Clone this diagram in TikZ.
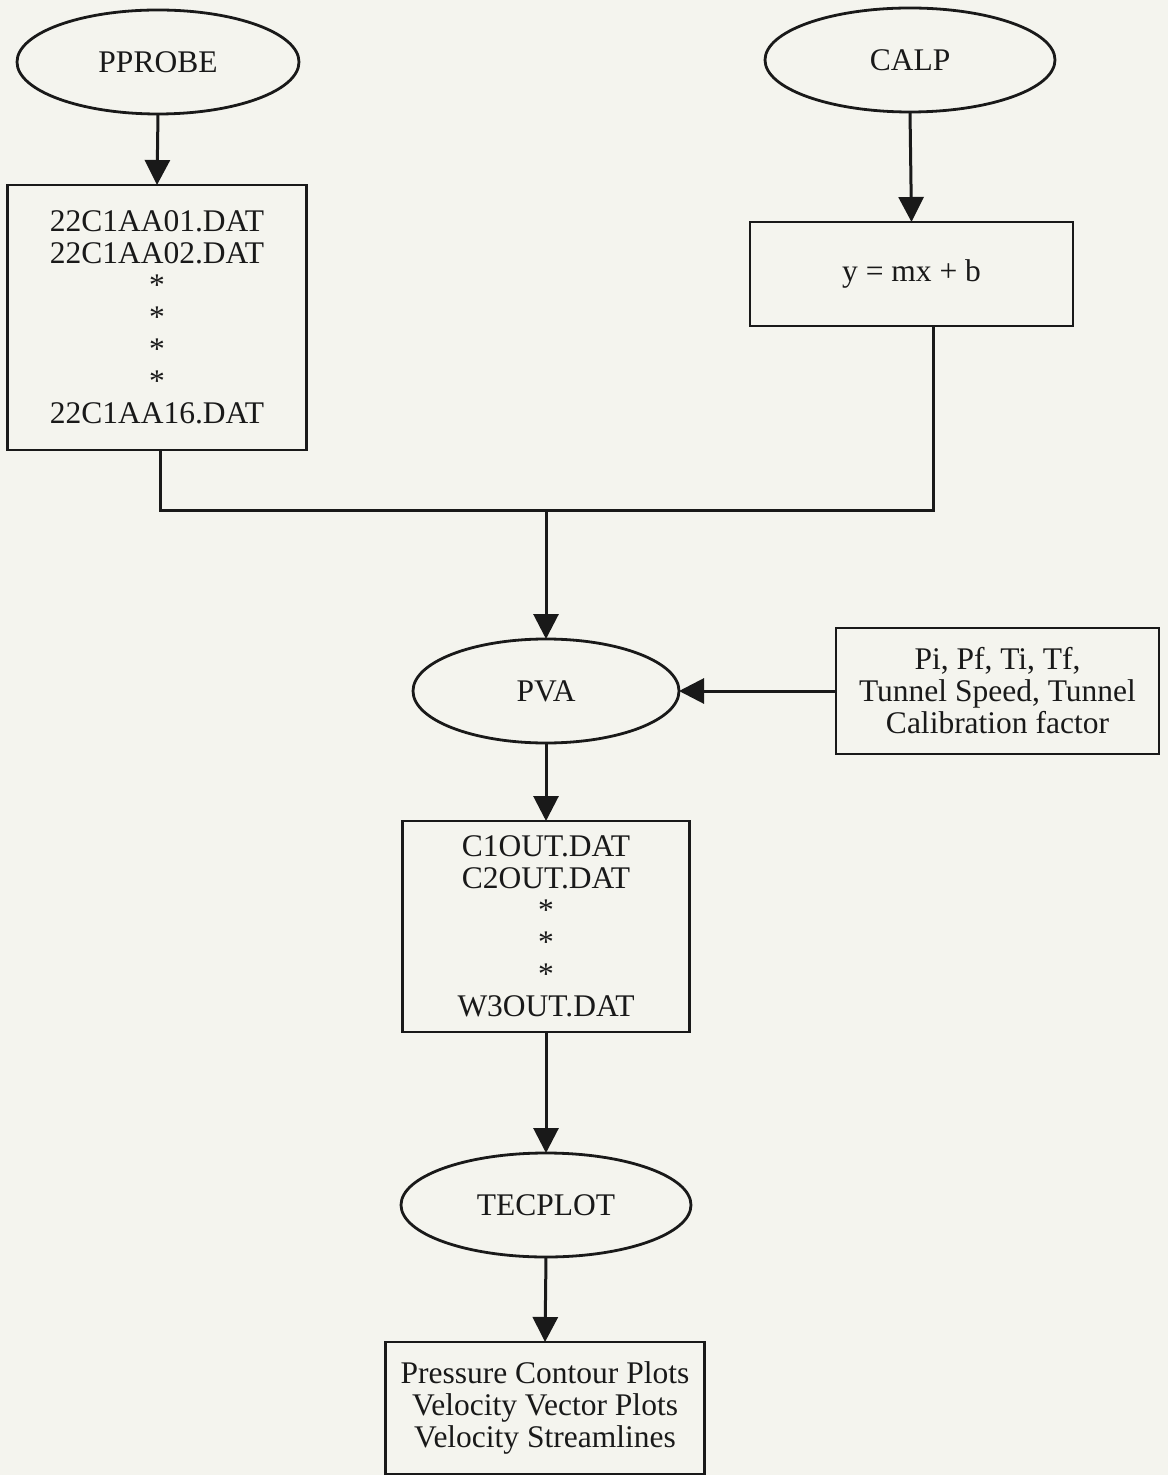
\documentclass[tikz,border=0pt]{standalone}
\usepackage{fontspec}
\setmainfont{Liberation Serif}
\usetikzlibrary{shapes.geometric,arrows.meta}
\definecolor{paper}{RGB}{244,244,238}
\definecolor{ink}{RGB}{25,25,25}
\begin{document}
\begin{tikzpicture}[x=0.5pt,y=-0.5pt,
  every node/.style={font=\fontsize{15.75}{16}\selectfont, text=ink, align=center},
  oval/.style={ellipse, draw=ink, line width=1.4pt, inner sep=0pt, outer sep=0pt},
  filebox/.style={rectangle, draw=ink, line width=1.4pt, inner sep=0pt, outer sep=0pt},
  conn/.style={draw=ink, line width=1.5pt},
  flow/.style={conn, -{Triangle[width=12.5pt,length=12.5pt]}}]
\fill[paper] (0,0) rectangle (1168,1475);
\useasboundingbox (0,0) rectangle (1168,1475);

\node[oval, minimum width=141pt, minimum height=52pt] (pprobe) at (158,62) {PPROBE};
\node[oval, minimum width=145pt, minimum height=52pt] (calp) at (910,60) {CALP};
\node[filebox, minimum width=149.5pt, minimum height=132.5pt] (box1) at (157,317.5)
  {22C1AA01.DAT\\22C1AA02.DAT\\*\\*\\*\\*\\22C1AA16.DAT};
\node[filebox, minimum width=161.5pt, minimum height=52pt] (box2) at (911.5,274) {y = mx + b};
\node[oval, minimum width=133pt, minimum height=52pt] (pva) at (546,691) {PVA};
\node[filebox, minimum width=161.5pt, minimum height=63pt] (params) at (997.5,691)
  {Pi, Pf, Ti, Tf,\\Tunnel Speed, Tunnel\\Calibration factor};
\node[filebox, minimum width=143.5pt, minimum height=105.5pt] (box3) at (546,926.5)
  {C1OUT.DAT\\C2OUT.DAT\\*\\*\\*\\W3OUT.DAT};
\node[oval, minimum width=145pt, minimum height=52pt] (tecplot) at (546,1205) {TECPLOT};
\node[filebox, minimum width=159.5pt, minimum height=66pt] (box4) at (545,1408)
  {Pressure Contour Plots\\Velocity Vector Plots\\Velocity Streamlines};

\coordinate (jl) at (160,511);
\coordinate (jr) at (933,511);
\coordinate (jm) at (546,511);

\draw[flow] (pprobe.south) -- (box1.north);
\draw[flow] (calp.south) -- (box2.north);
\draw[conn] (jl |- box1.south) -- (jl) -- (jr) -- (jr |- box2.south);
\draw[flow] (jm) -- (pva.north);
\draw[flow] (params.west) -- (pva.east);
\draw[flow] (pva.south) -- (box3.north);
\draw[flow] (box3.south) -- (tecplot.north);
\draw[flow] (tecplot.south) -- (box4.north);
\end{tikzpicture}
\end{document}
